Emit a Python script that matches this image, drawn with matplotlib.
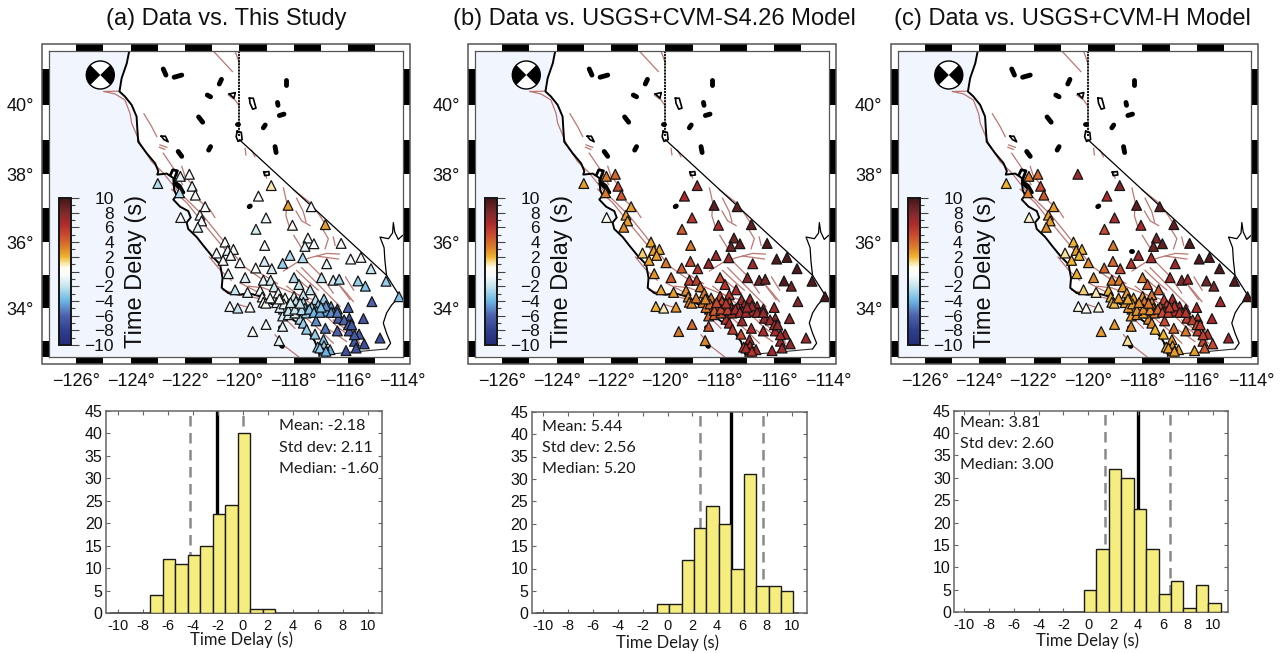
"""
Time delay maps and histograms for southern California stations.
"""

import numpy as np
from matplotlib import pyplot as plt
from matplotlib.cm import ScalarMappable
from matplotlib.colors import LinearSegmentedColormap, Normalize
from matplotlib.patches import Rectangle, Wedge
from matplotlib.transforms import blended_transform_factory

W, H = 1281, 653

titles = ['(a) Data vs. This Study', '(b) Data vs. USGS+CVM-S4.26 Model', '(c) Data vs. USGS+CVM-H Model']

station_lon = [
    -123.0, -122.17, -121.84, -121.74, -122.2, -121.62, -121.26, -122.16, -121.45, -121.39, -121.53,
    -118.83, -118.21, -119.3, -117.36, -116.84, -119.02, -119.39, -118.05, -117.48, -117.59, -117.26,
    -116.26, -119.07, -120.53, -120.43, -120.22, -120.84, -120.32, -120.6, -119.98, -118.14, -117.67,
    -118.41, -119.08, -119.4, -118.81, -116.79, -115.91, -115.53, -115.16, -114.61, -114.13, -120.41,
    -119.79, -119.12, -118.85, -117.99, -117.81, -116.98, -116.55, -116.33, -115.64, -115.37, -115.13,
    -115.44, -120.16, -119.7, -119.24, -119.16, -119.12, -119.03, -118.72, -118.57, -118.48, -118.63,
    -118.32, -117.99, -117.65, -117.4, -117.2, -116.89, -116.63, -116.4, -116.0, -114.83, -119.02,
    -119.51, -118.41, -118.54, -120.35, -120.06, -119.61, -118.2, -117.99, -117.65, -118.38, -118.08,
    -117.83, -117.59, -117.34, -117.1, -118.41, -118.2, -117.77, -117.55, -117.16, -116.8, -116.55,
    -116.36, -115.96, -117.77, -117.65, -117.18, -117.53, -116.84, -116.4, -115.96, -115.91, -115.6,
    -117.22, -116.91, -115.77, -115.41, -115.71, -116.08, -117.12, -116.67, -116.89, -116.91, -117.96,
    -118.87, -118.51, -118.36, -117.92, -118.2, -117.96, -117.71, -117.43, -117.26, -117.04, -116.82,
    -116.63, -116.4, -116.15, -115.99, -115.87, -115.77, -117.04, -116.82, -117.0, -118.12, -117.77,
    -118.53, -120.37,
]
station_lat = [
    37.73, 37.94, 38.0, 37.65, 37.46, 37.39, 37.05, 36.73, 36.8, 36.63, 36.44,
    37.67, 37.09, 37.36, 37.05, 36.52, 36.72, 36.38, 36.5, 36.12, 35.87, 35.95,
    35.96, 35.9, 36.0, 35.75, 35.78, 35.67, 35.6, 35.45, 35.38, 35.6, 35.53,
    35.36, 35.42, 35.22, 35.2, 35.35, 35.49, 35.54, 35.2, 34.82, 34.35, 35.05,
    34.93, 34.85, 34.85, 34.93, 34.72, 34.93, 34.85, 34.88, 34.83, 34.67, 34.2,
    33.68, 34.56, 34.48, 34.54, 34.34, 34.18, 34.15, 34.65, 34.46, 34.28, 34.17,
    34.31, 34.36, 34.41, 34.56, 34.26, 34.28, 34.05, 33.97, 34.02, 33.08, 33.5,
    33.28, 33.44, 33.0, 34.05, 34.0, 34.03, 34.1, 34.1, 34.18, 33.97, 34.0,
    34.03, 34.0, 34.03, 34.1, 33.76, 33.8, 33.85, 33.85, 33.9, 33.9, 33.87,
    33.69, 33.69, 33.66, 33.54, 33.61, 33.35, 33.38, 33.3, 33.3, 33.49, 33.2,
    33.2, 33.03, 32.98, 32.9, 32.77, 32.69, 32.8, 32.72, 32.84, 32.62, 33.85,
    34.31, 34.02, 34.13, 34.21, 33.93, 33.97, 33.95, 33.97, 33.87, 33.87, 34.07,
    33.87, 33.87, 33.64, 33.49, 33.49, 33.18, 32.77, 32.67, 34.03, 34.17, 34.15,
    34.28, 38.0,
]
delay_a = [
    -2.5, -1, -0.5, -1, -2.5, -0.5, -0.5, -0.5, -0.5, -0.5, -1,
    1, 2.5, -0.5, -0.5, 2.5, -0.8, -1.5, 0, -0.5, -1, -0.5,
    -0.5, -0.3, -0.5, -1, -0.3, -0.5, -0.5, -0.3, -0.3, -2.5, -2.5,
    -3, -1.5, -0.5, -1.5, -1, -0.5, -0.5, -2, -3, -3.5, -1,
    -1.2, -1, -1.5, -2.5, -2, -2, -1.5, -2.5, -3, -3.5, -6,
    -6.5, -2, -1, -0.5, -0.5, -0.3, 0, -1.5, -0.8, -0.5, -0.5,
    -0.5, -1.5, -2, -2, -2.5, -3, -5, -5.5, -6, -7, -0.6,
    -0.3, -1, -1, -0.5, -2, -0.3, -1.5, -1.5, -2.5, -2, -1.5,
    -2, -3, -3, -3.5, -1.5, -1.5, -2.5, -3, -4, -4.5, -5,
    -6, -6.5, -2.5, -3, -5, -3, -5.5, -6, -6.5, -6, -6.5,
    -3, -3.5, -6.5, -7, -7, -7, -3, -4, -3, -3, -1.5,
    -0.5, -1, -1, -2, -2, -2, -2.5, -3.5, -4, -4.5, -5,
    -5, -5.5, -6, -6.5, -6.5, -6.5, -3, -4, -3.5, -1.5, -2,
    -0.5, np.nan,
]
delay_b = [
    2.5, 3.5, 4, 5, 3.5, 4.5, 2.5, 0.5, 2.5, 2.5, 3,
    7, 9, 6.5, 9, 9, 6, 4.5, 6.5, 8.5, 8.5, 9,
    9.5, 3.5, 2.3, 2.5, 2.2, 1.5, 2.5, 2.3, 3.5, 7, 7,
    7, 5, 4.5, 6, 7, 9.5, 9.5, 9.5, 9.5, 9.8, 2.8,
    4.5, 5.5, 5.5, 5, 6, 8, 8.5, 8.5, 9.5, 8.5, 8,
    7.5, 2.3, 2.5, 3, 3, 3, 3, 3.5, 3.5, 3, 3.5,
    3.5, 5, 6, 6.5, 7, 7, 7, 7, 7, 7, 4,
    3.5, 4.5, 3.2, 2, 1, 2.7, 4, 5, 5.5, 4.5, 5,
    5.5, 6, 6.5, 7, 4, 4.5, 6, 6.5, 7, 7, 7.5,
    7.5, 7.5, 6, 6.5, 7, 5.5, 6.5, 6.5, 6.5, 7.5, 7,
    5, 7, 7, 7.5, 7, 7, 5, 6.5, 6.5, 6, 5,
    3.5, 3.5, 4, 5.5, 4.5, 5, 5.5, 6.5, 6.5, 7, 7,
    7, 7, 7, 7, 7.5, 7, 6.5, 6, 7, 5, 6,
    3, np.nan,
]
delay_c = [
    2, 3.5, 4, 5, 3.5, 4.5, 2.5, 0.8, 2.5, 2.5, 3,
    8, 9, 6.5, 9, 9, 6.5, 5, 6.5, 8, 8.5, 9,
    9.5, 3.5, 2, 2.5, 2, 1.2, 2, 2, 3, 7, 6.5,
    6, 4, 4, 5, 7, 9.5, 9.5, 9.5, 9.5, 9.8, 2.2,
    3, 3.5, 3.5, 3.5, 4.5, 7, 8, 7, 8.5, 8, 6.8,
    6.5, 1.5, 1, 2, 2, 2, 1.8, 2.5, 2.5, 2.3, 2.3,
    2.5, 3, 3.5, 4.5, 5.5, 6.5, 6.5, 6.5, 6.5, 7, 2.5,
    2.5, 3, 1.2, 0.5, 0.3, 0.6, 2.5, 3, 3.5, 3, 3,
    3.5, 3.5, 4.5, 5.5, 2.5, 3, 3, 3.5, 5, 6, 6,
    5.5, 5.5, 3, 3, 5, 2, 4, 3.5, 5.5, 5.5, 6,
    2, 2.5, 5, 5, 4.5, 2.5, 2, 2.5, 2.5, 2, 2.5,
    2.5, 2.5, 2.5, 3.5, 2.8, 3, 3, 4, 5, 5.5, 6,
    6, 6, 5.5, 5, 5.5, 5.5, 2.5, 2.5, 5.5, 3, 3.5,
    2.3, 7,
]
delays = [delay_a, delay_b, delay_c]

coast_lon = [-124.05, -124.14, -124.33, -124.41, -124.21, -123.96, -123.78, -123.75, -123.72, -123.41, -123.1,
             -122.98, -123.02, -122.67, -122.43, -122.4, -122.31, -122.43, -122.18, -121.88, -121.79, -121.94,
             -121.88, -121.57, -121.33, -121.02, -120.71, -120.62, -120.65, -120.41, -119.98, -119.67, -119.24,
             -118.87, -118.51, -118.26, -118.02, -117.53, -117.22, -117.04]
coast_lat = [41.5, 41.16, 40.74, 40.37, 40.23, 39.99, 39.66, 39.28, 38.94, 38.61, 38.32,
             38.09, 37.99, 38.02, 37.89, 37.55, 37.38, 37.26, 37.05, 36.92, 36.73, 36.58,
             36.39, 36.15, 35.9, 35.59, 35.33, 34.92, 34.62, 34.46, 34.41, 34.46, 34.36,
             34.15, 34.0, 33.85, 33.64, 33.33, 32.97, 32.5]

nevada_lon = [-120, -114.59]
nevada_lat = [39, 35.0]
oregon_lon = [-120, -120]
oregon_lat = [41.5, 39.1]
river_lon = [-114.0, -114.16, -114.29, -114.34, -114.37, -114.52, -114.83, -114.68, -114.65, -114.59, -114.4,
             -114.1, -114.4, -114.59, -114.71, -114.59, -114.44, -114.59]
river_lat = [36.2, 36.08, 36.3, 36.58, 36.27, 36.1, 36.15, 35.83, 35.44, 35.0, 34.75,
             34.36, 34.1, 33.85, 33.54, 33.23, 32.92, 32.74]
mexico_lon = [-114.59, -116.55, -117.04]
mexico_lat = [32.74, 32.59, 32.55]
bay_lon = [-122.53, -122.45, -122.28, -122.38, -122.4, -122.18, -122.04, -122.25, -122.4]
bay_lat = [37.99, 38.13, 38.1, 37.89, 37.8, 37.67, 37.46, 37.61, 37.73]

solid_lakes = [
    ([-122.8, -122.7], [41.0, 40.83]), ([-122.4, -122.12], [40.77, 40.83]), ([-120.66, -120.74], [40.71, 40.58]),
    ([-121.18, -121.06], [40.27, 40.22]), ([-121.5, -121.35], [39.65, 39.5]), ([-122.25, -122.12], [38.66, 38.52]),
    ([-121.06, -121.13], [38.8, 38.7]), ([-118.29, -118.29], [40.7, 40.56]), ([-118.6, -118.58], [40.06, 39.98]),
    ([-118.53, -118.36], [39.69, 39.73]), ([-119.12, -119.05], [39.34, 39.42]), ([-118.69, -118.65], [38.8, 38.63]),
    ([-118.41, -118.38], [35.72, 35.72]), ([-119.64, -119.6], [37.05, 37.07]), ([-118.5, -118.47], [33.43, 33.43]),
    ([-118.45, -118.42], [32.84, 32.82]), ([-120.1, -120.06], [39.45, 39.45]),
]
open_lakes = [
    ([-120.08, -119.93, -119.9, -120.05, -120.12, -120.08], [39.24, 39.21, 39.0, 38.95, 39.09, 39.24]),
    ([-119.63, -119.49, -119.39, -119.51, -119.61, -119.63], [40.18, 40.18, 39.9, 39.87, 40.04, 40.18]),
    ([-122.87, -122.72, -122.62, -122.77, -122.87], [39.1, 39.1, 38.94, 39.0, 39.1]),
    ([-120.37, -120.15, -120.2, -120.37], [40.3, 40.34, 40.18, 40.3]),
    ([-119.1, -118.92, -118.9, -119.07, -119.1], [38.06, 38.08, 37.98, 37.96, 38.06]),
]
faults = [
    ([-124.98, -124.57, -124.21, -124.02, -123.96, -123.65, -123.23, -122.8, -122.31, -121.82, -121.33, -120.84,
      -120.35, -119.86, -119.24, -118.63, -118.02, -117.28, -116.55, -115.93, -115.57],
     [40.37, 40.3, 40.13, 39.75, 39.47, 38.9, 38.37, 38.04, 37.55, 37.17, 36.78, 36.29,
      35.79, 35.28, 34.92, 34.67, 34.46, 34.26, 33.9, 33.54, 33.17]),
    ([-124.98, -124.4], [40.37, 40.38]),
    ([-123.51, -123.23, -123.04], [39.74, 39.38, 39.09]),
    ([-122.92, -122.67], [38.85, 38.78]),
    ([-122.94, -122.74], [38.78, 38.72]),
    ([-122.8, -122.55, -122.31, -122.09], [38.61, 38.32, 38.04, 37.7]),
    ([-122.12, -122.0, -121.57], [38.23, 37.94, 37.55]),
    ([-121.45, -121.08, -120.9], [37.21, 36.96, 36.73]),
    ([-122.49, -121.94, -121.45, -120.96, -120.47], [37.56, 37.17, 36.68, 36.2, 35.72]),
    ([-120.96, -120.59, -120.26], [41.5, 41.2, 40.93]),
    ([-120.16, -120.0], [41.5, 41.16]),
    ([-120.41, -120.16, -120.0], [40.27, 40.13, 39.96]),
    ([-119.79, -119.76], [38.75, 38.56]),
    ([-119.55, -119.43], [38.7, 38.51]),
    ([-119.06, -119.0], [38.06, 37.89]),
    ([-118.38, -118.26, -118.29, -118.14], [37.6, 37.17, 36.78, 36.39]),
    ([-117.92, -117.71, -117.4], [36.92, 36.63, 36.49]),
    ([-118.02, -117.4, -117.04, -116.73], [37.55, 37.17, 36.78, 36.39]),
    ([-116.98, -116.73, -116.85], [36.44, 36.1, 35.8]),
    ([-116.55, -116.48], [36.15, 35.9]),
    ([-118.38, -117.9, -117.4, -116.79, -116.33], [35.13, 35.38, 35.53, 35.66, 35.64]),
    ([-117.71, -117.16, -116.67, -116.3], [35.23, 34.77, 34.36, 34.05]),
    ([-117.53, -116.98, -116.55], [35.43, 34.97, 34.46]),
    ([-117.16, -116.36], [35.58, 35.49]),
    ([-116.55, -116.06, -115.81], [34.92, 34.46, 34.2]),
    ([-116.3, -115.93], [34.67, 34.26]),
    ([-118.26, -117.77, -117.22], [34.67, 34.36, 34.05]),
    ([-119.67, -119.12, -118.63], [34.67, 34.62, 34.46]),
    ([-119.98, -119.49], [34.1, 33.97]),
    ([-119.98, -119.37], [34.77, 34.51]),
    ([-117.77, -117.04, -116.55], [33.85, 33.33, 32.92]),
    ([-117.04, -116.42, -115.93], [33.95, 33.44, 33.13]),
    ([-116.55, -116.06, -115.57], [33.64, 33.33, 32.92]),
    ([-118.69, -118.32, -117.83], [33.18, 32.82, 32.5]),
    ([-118.45, -117.96], [33.79, 33.38]),
    ([-116.67, -116.06], [33.33, 32.97]),
    ([-118.0, -117.6, -117.2], [35.0, 34.7, 34.45]),
    ([-117.9, -117.45, -117.1], [35.15, 34.8, 34.55]),
    ([-119.2, -118.9, -118.6], [35.05, 34.9, 34.75]),
    ([-121.1, -120.7, -120.3], [35.55, 35.15, 34.85]),
    ([-120.6, -119.9, -119.3], [34.55, 34.4, 34.3]),
    ([-116.1, -115.8], [34.95, 34.55]),
    ([-117.9, -117.65, -117.55], [37.3, 36.9, 36.6]),
    ([-118.0, -117.7], [36.2, 35.8]),
]

hist_counts = [
    [4, 12, 11, 13, 15, 22, 24, 40, 1, 1],
    [2, 2, 12, 19, 24, 20, 10, 31, 6, 6, 5],
    [5, 14, 32, 30, 23, 14, 4, 7, 1, 6, 2],
]
hist_first_edge = [-7.41, -0.86, -0.35]
hist_mean_line = [-2.08, 5.13, 3.97]
hist_dash_lines = [[-4.21, 0.0], [2.58, 7.7], [1.37, 6.57]]
hist_stats = [
    ['Mean: -2.18', 'Std dev: 2.11', 'Median: -1.60'],
    ['Mean: 5.44', 'Std dev: 2.56', 'Median: 5.20'],
    ['Mean: 3.81', 'Std dev: 2.60', 'Median: 3.00'],
]
hist_xlim = [(-10.93, 11.12), (-10.94, 11.26), (-10.78, 11.26)]

cmap_values = [-10, -8, -6, -4, -2, -0.5, 0.5, 1.2, 2, 3.5, 5, 6.5, 8, 10]
cmap_colors = ['#232c78', '#2f3f8f', '#4d62ad', '#6cb6e4', '#c6e5ee', '#f8fbfb', '#fffdf0', '#f9e29a',
               '#f0b32e', '#d9782a', '#c94a30', '#ad2a2c', '#7f2a2c', '#431519']

# pixel layout, all measured from the top left corner of the picture
map_left = [49, 475, 897.5]
map_width = 353.6
map_top, map_bottom = 51, 356.7
hist_box = [(106, 381.7, 411, 613.3), (531.7, 807.3, 411.7, 613.3), (954.3, 1228.3, 410.7, 612)]
title_x = [226, 654, 1072]
stat_x = [279, 542.3, 960]
stat_y = [(426, 447.7, 469), (426.7, 448, 469.3), (422.7, 443.7, 465)]
xlabel_pos = [(242, 640), (667.7, 643), (1088, 640.7)]

plt.rcParams['font.family'] = ['Liberation Sans', 'DejaVu Sans']
plt.rcParams['axes.unicode_minus'] = True


def px_axes(fig, left, right, top, bottom):
    return fig.add_axes([left / W, 1 - bottom / H, (right - left) / W, (bottom - top) / H])


def merc(lat):
    return np.degrees(np.log(np.tan(np.pi / 4 + np.radians(lat) / 2)))


def merc_inv(y):
    return np.degrees(2 * np.arctan(np.exp(np.radians(y))) - np.pi / 2)


def draw_frame(ax):
    bx, by = 7 / map_width, 7.5 / (map_bottom - map_top)
    horiz = blended_transform_factory(ax.transData, ax.transAxes)
    vert = blended_transform_factory(ax.transAxes, ax.transData)
    for lon in range(-127, -114):
        c = 'black' if lon % 2 == 0 else 'white'
        for y0 in (1, -by):
            ax.add_patch(Rectangle((lon, y0), 1, by, transform=horiz, fc=c, ec='none', clip_on=False, zorder=6))
    edges = [32.5] + list(range(33, 42)) + [41.5]
    for lo, hi in zip(edges[:-1], edges[1:]):
        c = 'black' if int(lo) % 2 == 0 else 'white'
        for x0 in (1, -bx):
            ax.add_patch(Rectangle((x0, lo), bx, hi - lo, transform=vert, fc=c, ec='none', clip_on=False, zorder=6))
    ax.add_patch(Rectangle((-bx, -by), 1 + 2 * bx, 1 + 2 * by, transform=ax.transAxes, fill=False,
                           ec='#555555', lw=1.1, clip_on=False, zorder=7))


def draw_map(fig, i, cmap, norm):
    left = map_left[i]
    ax = px_axes(fig, left, left + map_width, map_top, map_bottom)
    ax.set_xlim(-127, -114)
    ax.set_yscale('function', functions=(merc, merc_inv))
    ax.set_ylim(32.5, 41.5)

    ax.fill(coast_lon + [-127, -127], coast_lat + [32.5, 41.5], fc='#f1f6fe', ec='none', zorder=0)
    for lon, lat in faults:
        ax.plot(lon, lat, color='#bd7672', lw=0.9, zorder=1)
    ax.plot(coast_lon, coast_lat, color='black', lw=1.4, zorder=2)
    ax.plot(nevada_lon, nevada_lat, color='black', lw=0.9, zorder=2)
    ax.plot(oregon_lon, oregon_lat, color='black', lw=1.3, ls=(0, (1.2, 0.5)), zorder=2)
    ax.plot(river_lon, river_lat, color='black', lw=0.9, zorder=2)
    ax.plot(mexico_lon, mexico_lat, color='#333333', lw=0.8, zorder=2)
    ax.plot(bay_lon, bay_lat, color='black', lw=2.0, zorder=2)
    for lon, lat in solid_lakes:
        ax.plot(lon, lat, color='black', lw=3.5, solid_capstyle='round', zorder=2)
    for lon, lat in open_lakes:
        ax.plot(lon, lat, color='black', lw=1.2, zorder=2)

    values = np.array(delays[i], dtype=float)
    keep = ~np.isnan(values)
    ax.scatter(np.array(station_lon)[keep], np.array(station_lat)[keep], c=values[keep], cmap=cmap, norm=norm,
               marker='^', s=50, edgecolors='#151515', linewidths=0.9, zorder=4, clip_on=True)

    ax.set_xticks(range(-126, -113, 2))
    ax.set_xticklabels(['\u2212%d\u00b0' % abs(v) for v in range(-126, -113, 2)])
    ax.set_yticks([34, 36, 38, 40])
    ax.set_yticklabels(['%d\u00b0' % v for v in [34, 36, 38, 40]])
    ax.minorticks_off()
    ax.tick_params(axis='x', length=0, pad=12, labelsize=13, labelcolor='#111111')
    ax.tick_params(axis='y', length=0, pad=11, labelsize=13, labelcolor='#111111')
    for s in ax.spines.values():
        s.set_color('#555555')
        s.set_linewidth(0.9)
        s.set_zorder(7)
    draw_frame(ax)

    # focal mechanism
    ball = px_axes(fig, left + 51.3 - 15, left + 51.3 + 15, 60, 90)
    ball.set_xlim(-15, 15)
    ball.set_ylim(-15, 15)
    ball.axis('off')
    ball.add_patch(Wedge((0, 0), 14, 0, 360, fc='white', ec='black', lw=1))
    ball.add_patch(Wedge((0, 0), 14, -45, 45, fc='black', ec='none'))
    ball.add_patch(Wedge((0, 0), 14, 135, 225, fc='black', ec='none'))

    # colour bar
    cax = px_axes(fig, left + 10, left + 22, 198, 345)
    cb = fig.colorbar(ScalarMappable(norm=norm, cmap=cmap), cax=cax)
    cb.set_ticks(list(range(-10, 11, 2)))
    cb.set_ticklabels([str(v).replace('-', '\u2212') for v in range(-10, 11, 2)])
    cax.yaxis.set_ticks(list(range(-9, 10, 2)), minor=True)
    cax.tick_params(which='major', length=6, width=0.8, color='#444444', pad=25, labelsize=12.5, labelcolor='#111111')
    cax.tick_params(which='minor', length=3, width=0.8, color='#444444')
    for t in cax.get_yticklabels():
        t.set_ha('right')
    cb.outline.set_edgecolor('#151515')
    cb.outline.set_linewidth(1.4)
    fig.text((left + 87) / W, 1 - 271 / H, 'Time Delay (s)', rotation=90, ha='center', va='center',
             fontsize=17, color='#111111')


def draw_hist(fig, i):
    left, right, top, bottom = hist_box[i]
    ax = px_axes(fig, left, right, top, bottom)
    counts = hist_counts[i]
    first = hist_first_edge[i]
    bars = [(first + k, c) for k, c in enumerate(counts)]

    # empty bins still leave a dark base line along the axis
    empty_lo = -10.5 + (first % 1 if i == 2 else 0)
    ax.plot([empty_lo, first + len(counts)], [0, 0], color='#222222', lw=1.2, zorder=2, clip_on=False)
    ax.plot([first + len(counts), 10.5], [0, 0], color='#222222', lw=1.2, zorder=2, clip_on=False)

    ax.plot([hist_mean_line[i]] * 2, [0, 45], color='black', lw=2.4, zorder=1)
    for x in hist_dash_lines[i]:
        ax.plot([x, x], [0, 45], color='#8a8a8a', lw=1.8, ls=(0, (4.2, 2.6)), zorder=1)
    ax.bar([b[0] for b in bars], [b[1] for b in bars], width=1.0, align='edge', color='#f5ed7d',
           edgecolor='#1a1a1a', linewidth=1.0, zorder=3)

    ax.set_xlim(*hist_xlim[i])
    ax.set_ylim(0, 45)
    ax.set_xticks(range(-10, 11, 2))
    ax.set_yticks(range(0, 46, 5))
    ax.tick_params(which='both', direction='in', top=True, right=True, length=3, width=0.8, color='#666666')
    ax.tick_params(axis='x', labelsize=10.5, pad=4, labelcolor='#111111')
    ax.tick_params(axis='y', labelsize=11.5, pad=2.5, labelcolor='#111111')
    ax.xaxis.set_major_formatter(plt.FuncFormatter(lambda v, p: '%d' % v))
    for s in ax.spines.values():
        s.set_color('#666666')
        s.set_linewidth(1.1)

    for line, y in zip(hist_stats[i], stat_y[i]):
        fig.text(stat_x[i] / W, 1 - y / H, line, family=['Lato', 'DejaVu Sans'], fontsize=11.6, ha='left', va='center',
                 color='#1a1a1a')
    x, y = xlabel_pos[i]
    fig.text(x / W, 1 - y / H, 'Time Delay (s)', family=['Lato', 'DejaVu Sans'], fontsize=12, ha='center',
             va='center', color='#1a1a1a')


def main():
    assert len(station_lon) == len(station_lat) == len(delay_a) == len(delay_b) == len(delay_c)
    positions = [(v + 10) / 20 for v in cmap_values]
    cmap = LinearSegmentedColormap.from_list('delay', list(zip(positions, cmap_colors)))
    norm = Normalize(-10, 10)

    fig = plt.figure(figsize=(W / 100, H / 100), dpi=100)
    for i in range(3):
        draw_map(fig, i, cmap, norm)
        draw_hist(fig, i)
        fig.text(title_x[i] / W, 1 - 19.5 / H, titles[i], ha='center', va='center', fontsize=17, color='#111111')
    fig.savefig('out.png', dpi=100)


main()
